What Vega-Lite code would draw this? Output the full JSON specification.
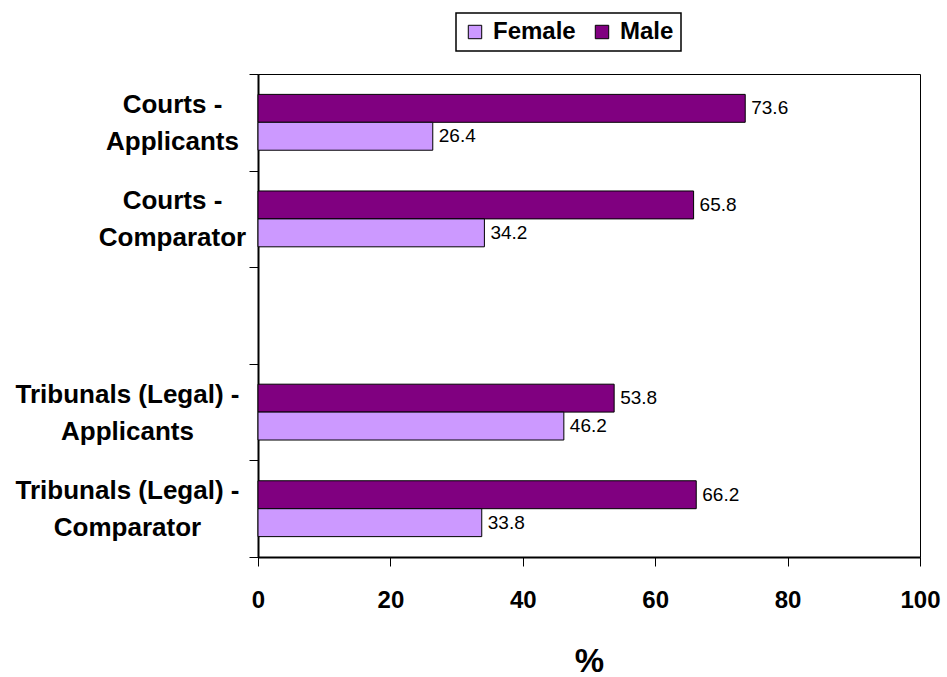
{
  "$schema": "https://vega.github.io/schema/vega-lite/v6.json",
  "autosize": {"type": "none"},
  "padding": {"left": 258, "top": 74, "right": 27, "bottom": 120},
  "width": 662,
  "height": 483,
  "background": "white",
  "config": {
    "font": "Liberation Sans",
    "view": {"stroke": "black", "strokeWidth": 1},
    "legend": {"strokeColor": "black", "strokeWidth": 1.5, "fillColor": "white", "padding": 7}
  },
  "data": {
    "values": [
      {"group": "Courts - Applicants", "sex": "Male", "pct": 73.6},
      {"group": "Courts - Applicants", "sex": "Female", "pct": 26.4},
      {"group": "Courts - Comparator", "sex": "Male", "pct": 65.8},
      {"group": "Courts - Comparator", "sex": "Female", "pct": 34.2},
      {"group": "Tribunals (Legal) - Applicants", "sex": "Male", "pct": 53.8},
      {"group": "Tribunals (Legal) - Applicants", "sex": "Female", "pct": 46.2},
      {"group": "Tribunals (Legal) - Comparator", "sex": "Male", "pct": 66.2},
      {"group": "Tribunals (Legal) - Comparator", "sex": "Female", "pct": 33.8}
    ]
  },
  "encoding": {
    "yOffset": {
      "field": "sex",
      "type": "nominal",
      "scale": {"domain": ["Male", "Female"], "paddingInner": 0, "paddingOuter": 0.73}
    },
    "x": {
      "field": "pct",
      "type": "quantitative",
      "scale": {"domain": [0, 100]},
      "axis": {
        "title": "%",
        "titleFontSize": 33,
        "titleFontWeight": "bold",
        "titleColor": "black",
        "titlePadding": 33,
        "values": [0, 20, 40, 60, 80, 100],
        "grid": false,
        "labelFontSize": 24,
        "labelFontWeight": "bold",
        "labelColor": "black",
        "labelPadding": 22,
        "tickSize": 9,
        "tickColor": "black",
        "domainColor": "black",
        "domainWidth": 2,
        "labelFlush": false
      }
    }
  },
  "layer": [
    {
      "mark": {"type": "bar", "stroke": "black", "strokeWidth": 1},
      "encoding": {
        "y": {
          "field": "group",
          "type": "nominal",
          "scale": {
            "domain": ["Courts - Applicants", "Courts - Comparator", " ", "Tribunals (Legal) - Applicants", "Tribunals (Legal) - Comparator"],
            "paddingInner": 0,
            "paddingOuter": 0
          },
          "axis": {
            "title": null,
            "orient": "left",
            "labelExpr": "(datum.value != null && indexof(datum.value, 'Courts') == 0) ? split(replace(datum.value, ' - ', ' -|'), '|') : ''",
            "labelFontSize": 26,
            "labelFontWeight": "bold",
            "labelColor": "black",
            "labelLineHeight": 37,
            "labelAlign": "center",
            "labelOffset": -18,
            "labelPadding": 77,
            "tickBand": "extent",
            "tickSize": 9,
            "tickColor": "black",
            "domainColor": "black",
            "domainWidth": 2,
            "labelLimit": 500
          }
        },
        "color": {
          "field": "sex",
          "type": "nominal",
          "scale": {"domain": ["Female", "Male"], "range": ["#CC99FF", "#800080"]},
          "legend": {
            "title": null,
            "orient": "none",
            "legendX": 198,
            "legendY": -61,
            "direction": "horizontal",
            "symbolType": "square",
            "symbolSize": 180,
            "symbolStrokeColor": "black",
            "symbolStrokeWidth": 1,
            "symbolOpacity": 1,
            "labelFontSize": 24,
            "labelFontWeight": "bold",
            "labelColor": "black",
            "labelOffset": 6,
            "columnPadding": 14
          }
        }
      }
    },
    {
      "mark": {"type": "text", "align": "left", "baseline": "middle", "dx": 6, "fontSize": 19, "color": "black"},
      "encoding": {
        "y": {
          "field": "group",
          "type": "nominal",
          "axis": {
            "title": null,
            "orient": "left",
            "labelExpr": "(datum.value != null && indexof(datum.value, 'Tribunals') == 0) ? split(replace(datum.value, ' - ', ' -|'), '|') : ''",
            "labelFontSize": 26,
            "labelFontWeight": "bold",
            "labelColor": "black",
            "labelLineHeight": 37,
            "labelAlign": "center",
            "labelOffset": -18,
            "labelPadding": 131,
            "tickBand": "extent",
            "tickSize": 9,
            "ticks": false,
            "domain": false,
            "labelLimit": 500
          }
        },
        "text": {"field": "pct", "type": "quantitative", "format": ".1f"}
      }
    }
  ],
  "resolve": {"axis": {"y": "independent"}}
}
